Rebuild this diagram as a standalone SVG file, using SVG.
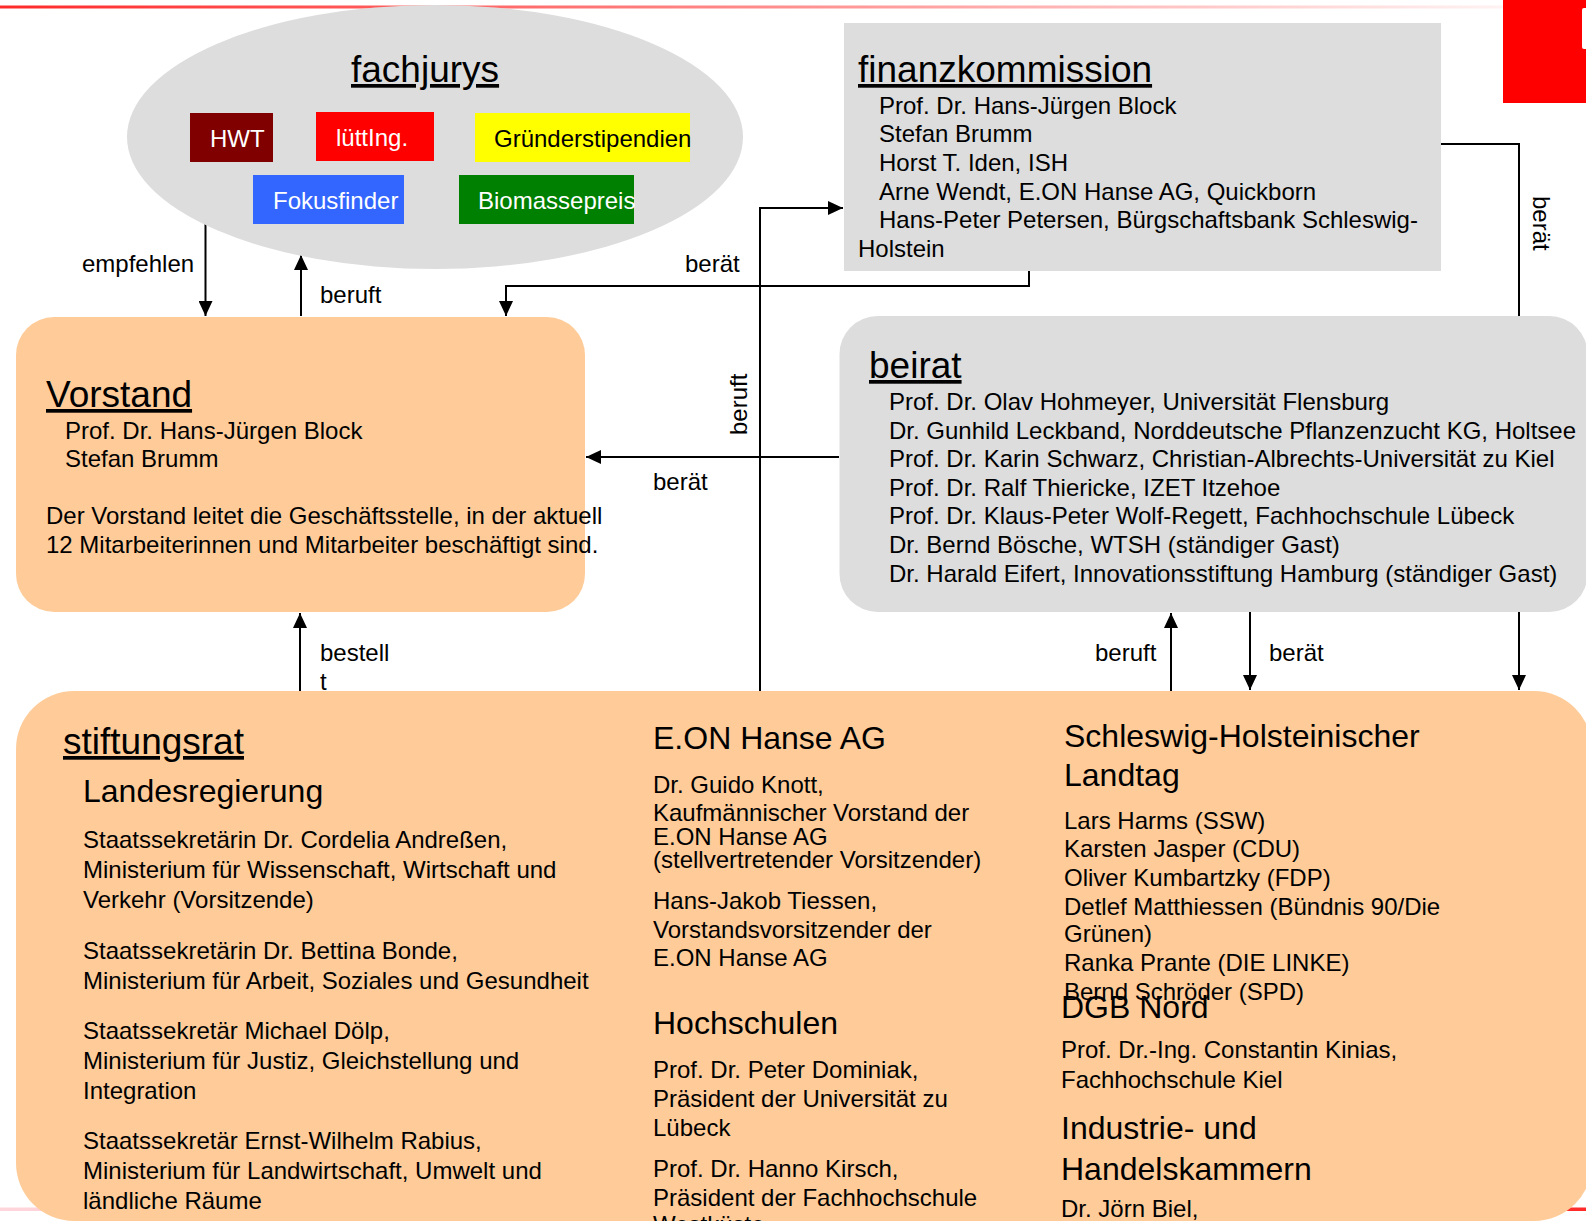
<svg xmlns="http://www.w3.org/2000/svg" width="1586" height="1226" viewBox="0 0 1586 1226">
<style>
text{font-family:"Liberation Sans",Arial,Helvetica,sans-serif;fill:#000}
.h{font-size:37px;text-decoration:underline}
.s{font-size:32px}
.t{font-size:24px}
.w{fill:#fff}
.ln{fill:none;stroke:#000;stroke-width:2}
.gray{fill:#dddddd}
.peach{fill:#ffcc99}
</style>
<defs>
<marker id="ah" markerUnits="userSpaceOnUse" markerWidth="15" markerHeight="14" refX="15" refY="7" orient="auto">
<path d="M0,0 L15,7 L0,14 z" fill="#000"/>
</marker>
<linearGradient id="topg" x1="0" y1="0" x2="1503" y2="0" gradientUnits="userSpaceOnUse">
<stop offset="0" stop-color="#ff2a2a"/>
<stop offset="0.5" stop-color="#ff8a8a"/>
<stop offset="1" stop-color="#fff2f2"/>
</linearGradient>
<linearGradient id="botg" x1="0" y1="0" x2="1586" y2="0" gradientUnits="userSpaceOnUse">
<stop offset="0" stop-color="#ffd6dc"/>
<stop offset="0.6" stop-color="#ff9090"/>
<stop offset="1" stop-color="#ff2a2a"/>
</linearGradient>
<clipPath id="sclip"><rect x="16" y="691" width="1576" height="530" rx="58"/></clipPath>
</defs>
<rect width="1586" height="1226" fill="#fff"/>
<rect x="0" y="5.5" width="1503" height="3" fill="url(#topg)"/>
<rect x="0" y="1207.5" width="1586" height="3.5" fill="url(#botg)"/>
<g id="logo">
<rect x="1503" y="0" width="83" height="103" fill="#ff0000"/>
<rect x="1582" y="8" width="8" height="41" rx="2" fill="#fff"/>
</g>

<g id="connectors">
<path class="ln" d="M205.5,223 V316" marker-end="url(#ah)"/>
<path class="ln" d="M301,316 V255" marker-end="url(#ah)"/>
<path class="ln" d="M1029,271 V286 H506 V316" marker-end="url(#ah)"/>
<path class="ln" d="M760,691 V208 H843" marker-end="url(#ah)"/>
<path class="ln" d="M839,457 H586" marker-end="url(#ah)"/>
<path class="ln" d="M300,691 V613" marker-end="url(#ah)"/>
<path class="ln" d="M1171,691 V613" marker-end="url(#ah)"/>
<path class="ln" d="M1250,612 V690" marker-end="url(#ah)"/>
<path class="ln" d="M1440,144 H1519 V690" marker-end="url(#ah)"/>
<text class="t" x="82" y="272">empfehlen</text>
<text class="t" x="320" y="303">beruft</text>
<text class="t" x="685" y="272">berät</text>
<text class="t" transform="translate(747,435) rotate(-90)">beruft</text>
<text class="t" x="653" y="490">berät</text>
<text class="t" x="320" y="661">bestell</text>
<text class="t" x="320" y="690">t</text>
<text class="t" x="1095" y="661">beruft</text>
<text class="t" x="1269" y="661">berät</text>
<text class="t" transform="translate(1533,196) rotate(90)">berät</text>
</g>

<g id="fachjurys">
<ellipse cx="435" cy="137" rx="308" ry="132" class="gray"/>
<text class="h" x="351" y="82">fachjurys</text>
<rect x="190" y="113" width="83" height="49" fill="#800000"/>
<text class="t w" x="210" y="147">HWT</text>
<rect x="316" y="112" width="118" height="49" fill="#ff0000"/>
<text class="t w" x="336" y="146">lüttIng.</text>
<rect x="475" y="113" width="215" height="49" fill="#ffff00"/>
<text class="t" x="494" y="147">Gründerstipendien</text>
<rect x="253" y="175" width="151" height="49" fill="#3366ff"/>
<text class="t w" x="273" y="209">Fokusfinder</text>
<rect x="459" y="175" width="175" height="49" fill="#008000"/>
<text class="t w" x="478" y="209">Biomassepreis</text>
</g>

<g id="finanzkommission">
<rect x="844" y="23" width="597" height="248" class="gray"/>
<text class="h" x="858" y="82">finanzkommission</text>
<text class="t" x="879" y="114">Prof. Dr. Hans-Jürgen Block</text>
<text class="t" x="879" y="142">Stefan Brumm</text>
<text class="t" x="879" y="171">Horst T. Iden, ISH</text>
<text class="t" x="879" y="200">Arne Wendt, E.ON Hanse AG, Quickborn</text>
<text class="t" x="879" y="228">Hans-Peter Petersen, Bürgschaftsbank Schleswig-</text>
<text class="t" x="858" y="257">Holstein</text>
</g>

<g id="vorstand">
<rect x="16" y="317" width="569" height="295" rx="38" class="peach"/>
<text class="h" x="46" y="407">Vorstand</text>
<text class="t" x="65" y="439">Prof. Dr. Hans-Jürgen Block</text>
<text class="t" x="65" y="467">Stefan Brumm</text>
<text class="t" x="46" y="524">Der Vorstand leitet die Geschäftsstelle, in der aktuell</text>
<text class="t" x="46" y="553">12 Mitarbeiterinnen und Mitarbeiter beschäftigt sind.</text>
</g>

<g id="beirat">
<rect x="839.5" y="316" width="748" height="296" rx="38" class="gray"/>
<text class="h" x="869" y="378">beirat</text>
<text class="t" x="889" y="410">Prof. Dr. Olav Hohmeyer, Universität Flensburg</text>
<text class="t" x="889" y="439">Dr. Gunhild Leckband, Norddeutsche Pflanzenzucht KG, Holtsee</text>
<text class="t" x="889" y="467">Prof. Dr. Karin Schwarz, Christian-Albrechts-Universität zu Kiel</text>
<text class="t" x="889" y="496">Prof. Dr. Ralf Thiericke, IZET Itzehoe</text>
<text class="t" x="889" y="524">Prof. Dr. Klaus-Peter Wolf-Regett, Fachhochschule Lübeck</text>
<text class="t" x="889" y="553">Dr. Bernd Bösche, WTSH (ständiger Gast)</text>
<text class="t" x="889" y="582">Dr. Harald Eifert, Innovationsstiftung Hamburg (ständiger Gast)</text>
</g>

<g id="stiftungsrat">
<rect x="16" y="691" width="1576" height="530" rx="58" class="peach"/>
<g clip-path="url(#sclip)">
<text class="h" x="63" y="754">stiftungsrat</text>
<text class="s" x="83" y="802">Landesregierung</text>
<text class="t" x="83" y="848">Staatssekretärin Dr. Cordelia Andreßen,</text>
<text class="t" x="83" y="878">Ministerium für Wissenschaft, Wirtschaft und</text>
<text class="t" x="83" y="908">Verkehr (Vorsitzende)</text>
<text class="t" x="83" y="959">Staatssekretärin Dr. Bettina Bonde,</text>
<text class="t" x="83" y="989">Ministerium für Arbeit, Soziales und Gesundheit</text>
<text class="t" x="83" y="1039">Staatssekretär Michael Dölp,</text>
<text class="t" x="83" y="1069">Ministerium für Justiz, Gleichstellung und</text>
<text class="t" x="83" y="1099">Integration</text>
<text class="t" x="83" y="1149">Staatssekretär Ernst-Wilhelm Rabius,</text>
<text class="t" x="83" y="1179">Ministerium für Landwirtschaft, Umwelt und</text>
<text class="t" x="83" y="1209">ländliche Räume</text>

<text class="s" x="653" y="749">E.ON Hanse AG</text>
<text class="t" x="653" y="793">Dr. Guido Knott,</text>
<text class="t" x="653" y="821">Kaufmännischer Vorstand der</text>
<text class="t" x="653" y="845">E.ON Hanse AG</text>
<text class="t" x="653" y="868">(stellvertretender Vorsitzender)</text>
<text class="t" x="653" y="909">Hans-Jakob Tiessen,</text>
<text class="t" x="653" y="938">Vorstandsvorsitzender der</text>
<text class="t" x="653" y="966">E.ON Hanse AG</text>
<text class="s" x="653" y="1034">Hochschulen</text>
<text class="t" x="653" y="1078">Prof. Dr. Peter Dominiak,</text>
<text class="t" x="653" y="1107">Präsident der Universität zu</text>
<text class="t" x="653" y="1136">Lübeck</text>
<text class="t" x="653" y="1177">Prof. Dr. Hanno Kirsch,</text>
<text class="t" x="653" y="1206">Präsident der Fachhochschule</text>
<text class="t" x="653" y="1233">Westküste</text>

<text class="s" x="1064" y="747">Schleswig-Holsteinischer</text>
<text class="s" x="1064" y="786">Landtag</text>
<text class="t" x="1064" y="829">Lars Harms (SSW)</text>
<text class="t" x="1064" y="857">Karsten Jasper (CDU)</text>
<text class="t" x="1064" y="886">Oliver Kumbartzky (FDP)</text>
<text class="t" x="1064" y="915">Detlef Matthiessen (Bündnis 90/Die</text>
<text class="t" x="1064" y="942">Grünen)</text>
<text class="t" x="1064" y="971">Ranka Prante (DIE LINKE)</text>
<text class="t" x="1064" y="1000">Bernd Schröder (SPD)</text>
<text class="s" x="1061" y="1018">DGB Nord</text>
<text class="t" x="1061" y="1058">Prof. Dr.-Ing. Constantin Kinias,</text>
<text class="t" x="1061" y="1088">Fachhochschule Kiel</text>
<text class="s" x="1061" y="1139">Industrie- und</text>
<text class="s" x="1061" y="1180">Handelskammern</text>
<text class="t" x="1061" y="1217">Dr. Jörn Biel,</text>
</g>
</g>
</svg>
